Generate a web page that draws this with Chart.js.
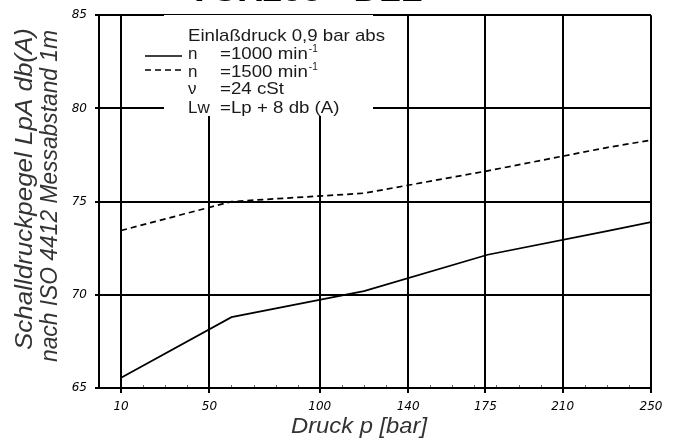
<!DOCTYPE html>
<html>
<head>
<meta charset="utf-8">
<script src="https://cdn.jsdelivr.net/npm/chart.js@4/dist/chart.umd.min.js"></script>
<style>
  html, body { margin: 0; padding: 0; background: #fff; }
  #wrap { width: 679px; height: 445px; }
</style>
</head>
<body>
<div id="wrap"><canvas id="c" width="679" height="445"></canvas></div>
<script>
// Sound pressure level vs. discharge pressure, two pump speeds
const pressure1000 = [10, 60, 120, 176, 230, 250];
const level1000    = [65.55, 68.8, 70.2, 72.15, 73.42, 73.9];
const pressure1500 = [10, 60, 120, 176, 230, 250];
const level1500    = [73.45, 75.0, 75.45, 76.65, 77.9, 78.3];

const xTickValues = [10, 50, 100, 140, 175, 210, 250];
const yTickValues = [65, 70, 75, 80, 85];
const minorStep = 10;

const chartTitle = 'VOX200 - DLL';
const xTitle = 'Druck p [bar]';
const yTitleLines = ['Schalldruckpegel LpA db(A)', 'nach ISO 4412 Messabstand 1m'];
const legendHeader = 'Einlaßdruck 0,9 bar abs';
const legendRows = [
  { sym: 'n',  text: '=1000 min', sup: '-1', dash: [] },
  { sym: 'n',  text: '=1500 min', sup: '-1', dash: [6, 4] },
  { sym: 'ν',  text: '=24 cSt' },
  { sym: 'Lw', text: '=Lp + 8 db (A)' }
];

const toPoints = (xs, ys) => xs.map((x, i) => ({ x, y: ys[i] }));

// draw text stretched horizontally to a given width
function fitText(ctx, str, x, y, width, align) {
  const w = ctx.measureText(str).width;
  const k = width ? width / w : 1;
  ctx.save();
  ctx.translate(x, y);
  ctx.scale(k, 1);
  ctx.textAlign = align || 'left';
  ctx.fillText(str, 0, 0);
  ctx.restore();
  return w * k;
}

const annotations = {
  id: 'annotations',
  beforeDatasetsDraw(chart) {
    const { ctx } = chart;
    // white panel behind the legend text
    ctx.save();
    ctx.fillStyle = '#fff';
    ctx.fillRect(164, 15, 209, 101);
    ctx.restore();
  },
  afterDraw(chart) {
    const { ctx, scales: { x, y } } = chart;
    ctx.save();

    // minor ticks along the pressure axis
    ctx.strokeStyle = '#666';
    ctx.lineWidth = 1;
    ctx.beginPath();
    for (let v = minorStep; v < x.max; v += minorStep) {
      if (xTickValues.includes(v)) continue;
      const px = Math.round(x.getPixelForValue(v)) + 0.5;
      ctx.moveTo(px, y.bottom - 1);
      ctx.lineTo(px, y.bottom - 3);
    }
    ctx.stroke();

    // legend
    ctx.fillStyle = '#1a1a1a';
    ctx.textBaseline = 'alphabetic';
    ctx.font = '17px "Liberation Sans", Arial, sans-serif';
    fitText(ctx, legendHeader, 188, 41, 197);
    const rowY = [59, 77, 94, 113];
    const sampleY = [56, 70];
    legendRows.forEach((r, i) => {
      const by = rowY[i];
      ctx.font = '17px "Liberation Sans", Arial, sans-serif';
      fitText(ctx, r.sym, 188, by, null);
      const w = fitText(ctx, r.text, 220, by, ctx.measureText(r.text).width * 1.1);
      if (r.sup) {
        ctx.font = '10px "Liberation Sans", Arial, sans-serif';
        ctx.fillText(r.sup, 221 + w, by - 7);
      }
      if (r.dash) {
        ctx.save();
        ctx.strokeStyle = '#000';
        ctx.lineWidth = 1.7;
        ctx.setLineDash(r.dash);
        ctx.beginPath();
        ctx.moveTo(145, sampleY[i]);
        ctx.lineTo(182, sampleY[i]);
        ctx.stroke();
        ctx.restore();
      }
    });

    // axis titles
    ctx.fillStyle = '#333';
    ctx.font = 'italic 22px "Liberation Sans", Arial, sans-serif';
    ctx.textBaseline = 'middle';
    fitText(ctx, xTitle, 359, 427, 136, 'center');

    ctx.font = 'italic 24px "Liberation Sans", Arial, sans-serif';
    const yCenters = [[25, 189, 322], [50, 196, 332]];
    yTitleLines.forEach((line, i) => {
      const [cx, cy, len] = yCenters[i];
      ctx.save();
      ctx.translate(cx, cy);
      ctx.rotate(-Math.PI / 2);
      fitText(ctx, line, 0, 0, len, 'center');
      ctx.restore();
    });

    // chart heading (runs off the top edge)
    ctx.fillStyle = '#000';
    ctx.textBaseline = 'alphabetic';
    ctx.font = 'bold 30px "Liberation Sans", Arial, sans-serif';
    fitText(ctx, chartTitle, 305, 1, 235, 'center');

    ctx.restore();
  }
};

const tickFont = { family: '"DejaVu Sans", Verdana, sans-serif', size: 12, style: 'italic' };

new Chart(document.getElementById('c'), {
  type: 'line',
  data: {
    datasets: [
      {
        label: 'n = 1000 min-1',
        data: toPoints(pressure1000, level1000),
        borderColor: '#000',
        borderWidth: 1.7,
        pointRadius: 0,
        tension: 0,
        fill: false
      },
      {
        label: 'n = 1500 min-1',
        data: toPoints(pressure1500, level1500),
        borderColor: '#000',
        borderWidth: 1.7,
        borderDash: [6, 4],
        pointRadius: 0,
        tension: 0,
        fill: false
      }
    ]
  },
  options: {
    responsive: false,
    animation: false,
    devicePixelRatio: 1,
    layout: { padding: { top: 13, right: 28, left: 0, bottom: 0 } },
    plugins: { legend: { display: false }, tooltip: { enabled: false }, title: { display: false } },
    scales: {
      x: {
        type: 'linear',
        min: 0,
        max: 250,
        afterBuildTicks: s => { s.ticks = xTickValues.map(v => ({ value: v })); },
        afterFit: s => { s.height = 57; },
        grid: { color: '#000', lineWidth: 2, tickLength: 5, drawTicks: true },
        border: { display: true, color: '#000', width: 2 },
        ticks: { color: '#000', font: tickFont, padding: 7, maxRotation: 0, autoSkip: false }
      },
      y: {
        type: 'linear',
        min: 65,
        max: 85,
        afterBuildTicks: s => { s.ticks = yTickValues.map(v => ({ value: v })); },
        afterFit: s => { s.width = 99; },
        grid: { color: '#000', lineWidth: 2, tickLength: 4, drawTicks: true },
        border: { display: true, color: '#000', width: 2 },
        ticks: { color: '#000', font: tickFont, padding: 8 }
      }
    }
  },
  plugins: [annotations]
});
</script>
</body>
</html>
